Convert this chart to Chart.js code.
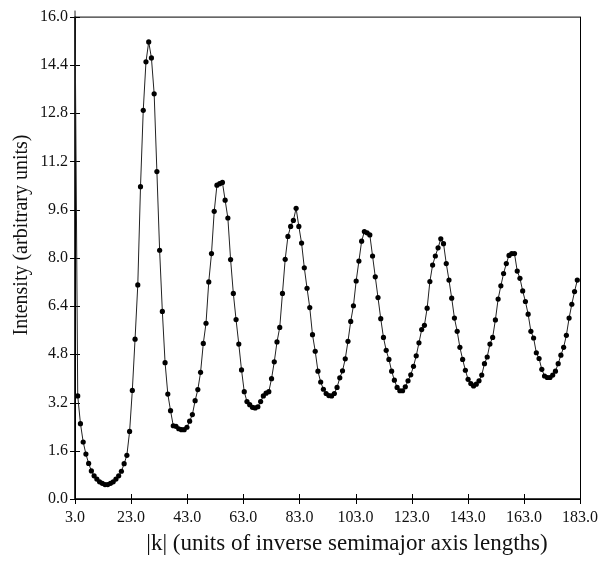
<!DOCTYPE html>
<html>
<head>
<meta charset="utf-8">
<script src="https://cdn.jsdelivr.net/npm/chart.js@4.4.1/dist/chart.umd.min.js"></script>
<style>
  html,body{margin:0;padding:0;background:#fff;}
  #wrap{width:610px;height:564px;}
</style>
</head>
<body>
<div id="wrap"><canvas id="chart" width="610" height="564"></canvas></div>
<script>
// === DATI ===
// |k| sampled on a regular grid, first sample at 3.0
const kStart = 3.0;
const kStep = 0.973;
const intensity = [
  16.2, 3.42, 2.5, 1.89, 1.49, 1.18, 0.93, 0.77, 0.66, 0.57,
  0.52, 0.48, 0.48, 0.52, 0.57, 0.66, 0.77, 0.92, 1.17, 1.45,
  2.24, 3.6, 5.3, 7.1, 10.36, 12.89, 14.5, 15.16, 14.63, 13.44,
  10.86, 8.25, 6.22, 4.52, 3.48, 2.93, 2.43, 2.41, 2.33, 2.3,
  2.3, 2.38, 2.58, 2.8, 3.26, 3.63, 4.2, 5.16, 5.83, 7.2,
  8.14, 9.54, 10.41, 10.46, 10.5, 9.91, 9.32, 7.94, 6.82, 5.95,
  5.14, 4.28, 3.56, 3.23, 3.13, 3.04, 3.02, 3.06, 3.23, 3.42,
  3.51, 3.56, 3.99, 4.55, 5.21, 5.69, 6.82, 7.95, 8.71, 9.04,
  9.24, 9.64, 9.04, 8.49, 7.67, 6.99, 6.35, 5.45, 4.9, 4.24,
  3.88, 3.64, 3.5, 3.43, 3.42, 3.5, 3.7, 4.02, 4.25, 4.65,
  5.23, 5.89, 6.41, 7.23, 7.89, 8.55, 8.87, 8.83, 8.76, 8.06,
  7.37, 6.68, 5.98, 5.36, 4.93, 4.63, 4.24, 3.94, 3.7, 3.59,
  3.59, 3.72, 3.92, 4.12, 4.4, 4.75, 5.18, 5.62, 5.76, 6.33,
  7.21, 7.76, 8.06, 8.33, 8.63, 8.47, 7.81, 7.26, 6.66, 6.0,
  5.56, 5.03, 4.63, 4.27, 3.97, 3.83, 3.75, 3.81, 3.92, 4.11,
  4.49, 4.71, 5.14, 5.36, 5.94, 6.63, 7.07, 7.48, 7.81, 8.08,
  8.14, 8.14, 7.56, 7.32, 6.9, 6.55, 6.13, 5.56, 5.34, 4.85,
  4.66, 4.3, 4.08, 4.03, 4.03, 4.11, 4.24, 4.49, 4.77, 5.03,
  5.43, 6.0, 6.46, 6.88, 7.26
];
const xTicks = [3, 23, 43, 63, 83, 103, 123, 143, 163, 183];
const yTicks = [0, 1.6, 3.2, 4.8, 6.4, 8.0, 9.6, 11.2, 12.8, 14.4, 16.0];
const xTitle = "|k| (units of inverse semimajor axis lengths)";
const yTitle = "Intensity (arbitrary units)";

const points = intensity.map((v, i) => ({x: kStart + i * kStep, y: v}));

const serif = "'Liberation Serif', 'DejaVu Serif', serif";

// === CORNICE + TACCHE ===
const framePlugin = {
  id: "frame",
  beforeDatasetsDraw(ch) {
    const {ctx, chartArea: a, scales} = ch;
    ctx.save();
    ctx.strokeStyle = "#000";
    ctx.lineWidth = 1;
    ctx.strokeRect(a.left + 0.5, a.top + 0.5, a.right - a.left, a.bottom - a.top);
    ctx.lineWidth = 1.6;
    ctx.beginPath();
    ctx.moveTo(a.left, a.top); ctx.lineTo(a.left, a.bottom); ctx.lineTo(a.right, a.bottom);
    ctx.stroke();
    ctx.lineWidth = 1;
    ctx.beginPath();
    xTicks.forEach(v => {
      const px = Math.round(scales.x.getPixelForValue(v)) + 0.5;
      ctx.moveTo(px, a.bottom - 5); ctx.lineTo(px, a.bottom + 5);
    });
    yTicks.forEach(v => {
      const py = Math.round(scales.y.getPixelForValue(v)) + 0.5;
      ctx.moveTo(a.left - 5, py); ctx.lineTo(a.left + 5, py);
    });
    ctx.stroke();
    ctx.restore();
  },
  // titoli degli assi, posizionati come nell'originale
  afterDraw(ch) {
    const ctx = ch.ctx;
    ctx.save();
    ctx.fillStyle = "#111";
    ctx.textAlign = "center";
    ctx.textBaseline = "middle";
    ctx.font = "23px " + serif;
    ctx.fillText(xTitle, 347, 544);
    ctx.translate(22, 235);
    ctx.rotate(-Math.PI / 2);
    ctx.font = "20px " + serif;
    ctx.fillText(yTitle, 0, 0);
    ctx.restore();
  }
};

new Chart(document.getElementById("chart"), {
  type: "line",
  data: {
    datasets: [{
      data: points,
      borderColor: "#222",
      borderWidth: 1,
      pointRadius: 2.6,
      pointBackgroundColor: "#000",
      pointBorderWidth: 0,
      tension: 0,
      clip: false
    }]
  },
  options: {
    responsive: false,
    animation: false,
    devicePixelRatio: 1,
    layout: {padding: {top: 13, right: 30, left: 0, bottom: 0}},
    plugins: {legend: {display: false}, tooltip: {enabled: false}},
    scales: {
      x: {
        type: "linear", min: 3, max: 183,
        afterBuildTicks: s => { s.ticks = xTicks.map(v => ({value: v})); },
        afterFit: s => { s.height = 65; },
        grid: {display: false, drawTicks: false},
        border: {display: false},
        ticks: {
          padding: 9, maxRotation: 0, autoSkip: false,
          color: "#111", font: {family: serif, size: 16},
          callback: v => Number(v).toFixed(1)
        }
      },
      y: {
        type: "linear", min: 0, max: 16,
        afterBuildTicks: s => { s.ticks = yTicks.map(v => ({value: v})); },
        afterFit: s => { s.width = 75; },
        grid: {display: false, drawTicks: false},
        border: {display: false},
        ticks: {
          padding: 7, autoSkip: false,
          color: "#111", font: {family: serif, size: 16},
          callback: v => Number(v).toFixed(1)
        }
      }
    }
  },
  plugins: [framePlugin]
});
</script>
</body>
</html>
